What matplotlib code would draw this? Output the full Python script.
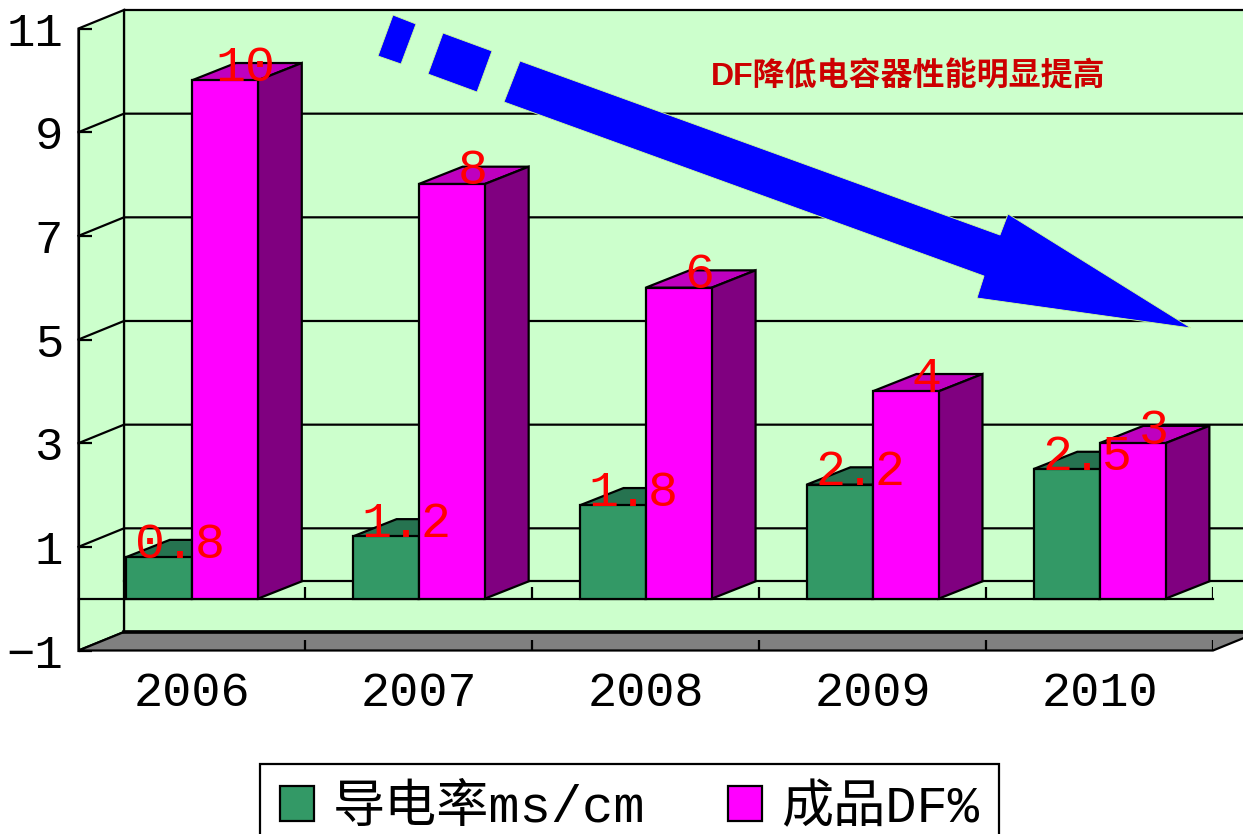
import matplotlib
matplotlib.use('Agg')
import matplotlib.pyplot as plt
from matplotlib.patches import Polygon
from matplotlib.transforms import Affine2D

### Data ###
years = ['2006', '2007', '2008', '2009', '2010']
conductivity = [0.8, 1.2, 1.8, 2.2, 2.5]
df_percent = [10, 8, 6, 4, 3]
conductivity_labels = ['0.8', '1.2', '1.8', '2.2', '2.5']
df_labels = ['10', '8', '6', '4', '3']
y_ticks = [-1, 1, 3, 5, 7, 9, 11]
series_names = ['导电率ms/cm', '成品DF%']
note = 'DF降低电容器性能明显提高'

### Arrow shapes, in image pixels ###
dash_1 = [(393, 15), (416, 24), (401, 64), (378, 56)]
dash_2 = [(443, 33), (492, 51), (477, 92), (428, 74)]
arrow = [(520, 61), (1000, 235), (1008, 214), (1191, 328),
         (977, 298), (984, 276), (504, 102)]

W, H = 1243, 834
MONO = ['Liberation Mono', 'Noto Sans CJK SC']
WALL_DX, WALL_DY = 0.2005, 0.357
BAR_DX, BAR_DY = 0.193, 0.334
BAR_W = 0.291
LW = 1.6

plt.rcParams['font.family'] = MONO

fig = plt.figure(figsize=(W / 100, H / 100), dpi=100)
ax = fig.add_axes([78.5 / W, 1 - 650.5 / H, (1213 - 78.5) / W, (650.5 - 28.5) / H])
ax.set_xlim(0, 5)
ax.set_ylim(-1, 11)
ax.patch.set_visible(False)
for s in ['top', 'right', 'bottom']:
    ax.spines[s].set_visible(False)
ax.spines['left'].set_linewidth(LW)
ax.spines['left'].set_zorder(6)

def poly(points, face, z, edge='black', lw=LW):
    ax.add_patch(Polygon(points, closed=True, facecolor=face, edgecolor=edge,
                         linewidth=lw, clip_on=False, zorder=z, joinstyle='miter'))

### Walls and floor ###
far_right = 5 + WALL_DX
poly([(WALL_DX, -1 + WALL_DY), (far_right, -1 + WALL_DY), (far_right, 11 + WALL_DY),
      (WALL_DX, 11 + WALL_DY)], '#CCFFCC', 1)
poly([(0, -1), (WALL_DX, -1 + WALL_DY), (WALL_DX, 11 + WALL_DY), (0, 11)], '#CCFFCC', 1)
poly([(0, -1), (5, -1), (far_right, -1 + WALL_DY), (WALL_DX, -1 + WALL_DY)], '#808080', 2)
ax.plot([WALL_DX, far_right], [-1 + WALL_DY] * 2, color='black', lw=2.6, clip_on=False, zorder=3)

for v in y_ticks[1:-1]:
    ax.plot([0, WALL_DX, far_right], [v, v + WALL_DY, v + WALL_DY], color='black', lw=LW,
            clip_on=False, zorder=2)
ax.plot([WALL_DX, 5 + BAR_DX], [BAR_DY, BAR_DY], color='black', lw=LW, clip_on=False, zorder=2)

### Zero plane and category ticks ###
ax.plot([0, 5], [0, 0], color='black', lw=LW, clip_on=False, zorder=4)
ax.vlines(range(1, 6), 0, 0.23, color='black', lw=LW, zorder=2)
ax.vlines(range(1, 6), -1, -0.8, color='black', lw=LW, zorder=4)

### Bars ###
centers = [i + 0.5 for i in range(len(years))]
green_left = [c - BAR_W for c in centers]
pink_left = list(centers)

def bar_3d(lefts, values, front, top, side, name, z):
    bars = ax.bar(lefts, values, width=BAR_W, align='edge', color=front, edgecolor='black',
                  linewidth=LW, zorder=z + 0.2, label=name)
    for x, v in zip(lefts, values):
        r = x + BAR_W
        poly([(x, v), (r, v), (r + BAR_DX, v + BAR_DY), (x + BAR_DX, v + BAR_DY)], top, z)
        poly([(r, 0), (r + BAR_DX, BAR_DY), (r + BAR_DX, v + BAR_DY), (r, v)], side, z)
    return bars

bar_3d(green_left, conductivity, '#339966', '#267350', '#267350', series_names[0], 5)
bar_3d(pink_left, df_percent, '#FF00FF', '#BF00BF', '#800080', series_names[1], 6)

### Data labels ###
def value_labels(lefts, values, texts):
    for x, v, t in zip(lefts, values, texts):
        ax.annotate(t, (x + BAR_W / 2, v), xytext=(15, 9), textcoords='offset points',
                    ha='center', va='center', color='#FF0000', fontsize=36, zorder=8,
                    annotation_clip=False)

value_labels(green_left, conductivity, conductivity_labels)
value_labels(pink_left, df_percent, df_labels)

### Axis labels ###
ax.set_xticks(centers, years)
ax.set_yticks(y_ticks)
ax.tick_params(axis='x', length=0, pad=15, labelsize=35)
ax.tick_params(axis='y', direction='in', length=9.4, width=LW, pad=11, labelsize=34)

### Blue arrow and note ###
px = Affine2D().scale(1, -1).translate(0, H)
for shape in [dash_1, dash_2, arrow]:
    ax.add_patch(Polygon(shape, closed=True, facecolor='#0000FF', edgecolor='#CCFF99',
                         linewidth=0.6, transform=px, clip_on=False, zorder=7))
fig.text(711 / W, 1 - 77 / H, note, color='#CC0000', fontsize=23, fontweight='bold',
         va='center', ha='left', family=['Liberation Sans', 'Noto Sans CJK SC'])

### Legend ###
leg = ax.legend(loc='upper left', bbox_to_anchor=(260 / W, 1 - 764 / H),
                bbox_transform=fig.transFigure, ncol=2, fontsize=37.5, frameon=True,
                fancybox=False, framealpha=1, edgecolor='black', borderaxespad=0,
                borderpad=0.38, handlelength=0.65, handleheight=0.65, handletextpad=0.36,
                columnspacing=1.6)
leg.get_frame().set_linewidth(LW)
leg.set_zorder(9)
leg.set_clip_on(False)

fig.savefig('out.png', dpi=100)
